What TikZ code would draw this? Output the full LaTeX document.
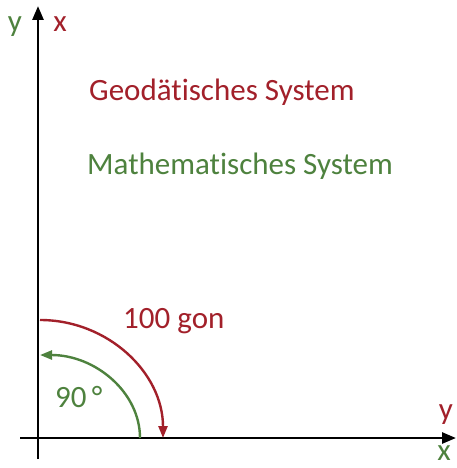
\documentclass[tikz,border=0pt]{standalone}
\usepackage{fontspec}
\setmainfont[Ligatures=NoCommon]{Carlito}
\usetikzlibrary{arrows.meta}
\definecolor{geored}{RGB}{162,32,42}
\definecolor{mathgreen}{RGB}{78,130,62}
\begin{document}
\begin{tikzpicture}[x=1pt,y=-1pt,
  lbl/.style={inner sep=0pt,font=\fontsize{31}{37}\selectfont},
  axis/.style={line width=2.6pt,-{Triangle[length=14pt,width=11pt]}},
  arcred/.style={geored,line width=2.4pt,-{Triangle[length=12pt,width=9pt]}},
  arcgreen/.style={mathgreen,line width=2.4pt,-{Triangle[length=12pt,width=9pt]}}]
\useasboundingbox[fill=white] (0,0) rectangle (456,468);
\coordinate (o) at (38,438);
\coordinate (vb) at (38,459);
\coordinate (vt) at (38,6);
\coordinate (hl) at (20,438);
\coordinate (hr) at (456,438);
\draw[axis] (vb) -- (vt);
\draw[axis] (hl) -- (hr);
% arcs
\coordinate (rs) at (40,320);
\draw[arcred] (rs) arc[start angle=270,end angle=360,x radius=123,y radius=118];
\coordinate (gs) at (140,438);
\draw[arcgreen] (gs) arc[start angle=0,end angle=-90,x radius=100,y radius=83];
% labels
\node[lbl,mathgreen,anchor=base] (ytop) at (15,32) {y};
\node[lbl,geored,anchor=base] (xtop) at (60,32) {x};
\node[lbl,geored,anchor=base] (yright) at (446,419) {y};
\node[lbl,mathgreen,anchor=base] (xright) at (444,460) {x};
\node[lbl,geored,anchor=base west] (geo) at (89,101) {Geodätisches System};
\node[lbl,mathgreen,anchor=base west] (math) at (87,174) {Mathematisches System};
\node[lbl,geored,anchor=base west] (gon) at (123,328) {100 gon};
\node[lbl,mathgreen,anchor=base west] (deg) at (55,407) {90\,°};
\end{tikzpicture}
\end{document}
